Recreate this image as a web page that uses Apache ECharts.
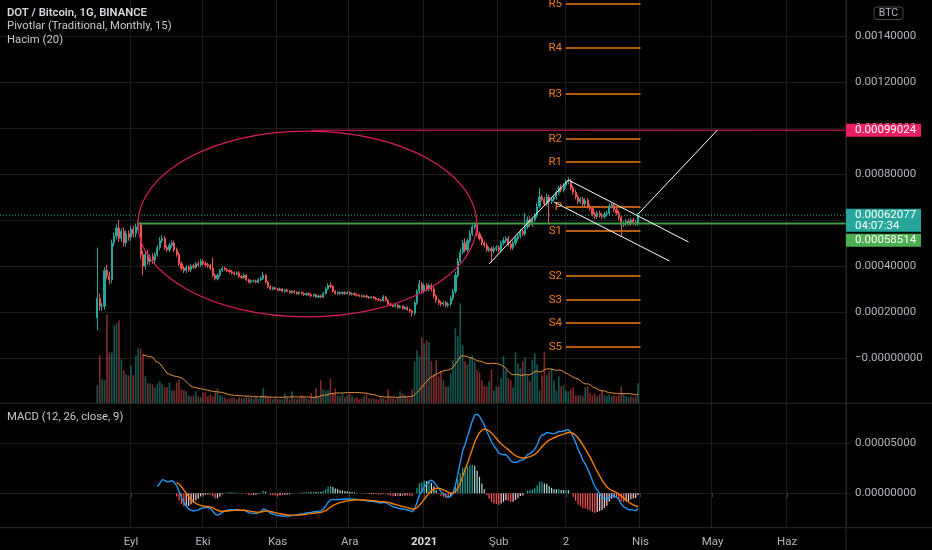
<!DOCTYPE html>
<html><head><meta charset="utf-8">
<script src="https://cdn.jsdelivr.net/npm/echarts@6/dist/echarts.min.js"></script>
<style>html,body{margin:0;padding:0;background:#000;overflow:hidden}#c{width:932px;height:550px}</style>
</head><body><div id="c"></div>
<script>
// ---------- DATA (prices in units of 1e-5 BTC) ----------
const startDate = '2020-08-18';
const leadSlots = 40;
const totalSlots = 352;
const firstOpen = 17.4;
const closes = [
26, 22.5, 22.5, 38, 36, 34, 50, 53, 56.5, 52,
55, 50, 54, 52.5, 56, 54, 57, 58, 45, 40,
45, 42, 44, 42.5, 45, 48, 51, 52, 48, 47,
49, 50, 47, 45, 41, 39, 38, 39.5, 38.5, 40,
39.5, 41, 40.5, 42, 41, 40.5, 40, 39, 36, 34.5,
36, 38, 39, 38.5, 38, 37.5, 37, 36.5, 37, 35.5,
35, 36, 34, 33, 33.5, 33.5, 33, 34, 34.5, 36,
33, 31, 30, 30.5, 30, 29.5, 30, 29, 29.5, 29,
28.5, 29, 28.5, 28, 28.5, 28, 27.5, 28, 27.5, 27,
27.5, 26.5, 27, 26.5, 28, 30, 31.5, 31, 29, 28,
28.5, 28, 28.5, 28, 28.5, 27.8, 28, 27.5, 27.2, 27,
26.8, 27, 26.5, 26.2, 26.5, 26, 25.5, 25.2, 25, 26.5,
25, 23.5, 23, 22.5, 23, 22, 22.5, 21.5, 22, 21,
20.5, 19.5, 24, 29, 32, 29, 31.5, 30, 31.5, 30,
27, 25, 24, 23.5, 24, 23, 23.5, 26, 29, 36,
42, 46, 50, 47, 51, 54, 57, 58, 54, 52,
50, 49, 47, 47.5, 46.5, 47.5, 48, 47, 50, 51,
52, 49.5, 48, 50, 52, 53, 55, 54, 57, 60,
58, 60, 62, 66, 70, 69, 67, 70, 68, 69,
70, 72, 74, 73, 75, 76.5, 77, 74, 72, 70,
68, 69, 67, 68.5, 66, 65, 62.5, 61.5, 63, 62,
61.5, 62.5, 63, 66, 66.5, 64.5, 63, 61, 58, 58.5,
59.5, 58.5, 60, 59, 58.5, 62.077
];
const wickUp = [
22, 2, 1.5, 1.5, 2.5, 1.5, 1.5, 1.5, 1.5, 3.5,
1.5, 2, 1.5, 1.5, 1.5, 1.5, 1.5, 1.5, 1, 1.5,
1.5, 2, 1, 1.5, 1, 1, 1.5, 1.5, 1, 1,
1, 1, 1, 1, 1, 1, 1, 0.8, 0.8, 1,
1, 0.8, 1, 1, 0.8, 1, 0.8, 0.8, 4.5, 0.8,
0.8, 0.8, 0.8, 0.8, 0.6, 0.6, 0.8, 0.6, 0.6, 0.8,
0.6, 0.8, 0.6, 0.6, 0.6, 0.6, 0.6, 0.6, 1, 1.5,
0.6, 0.6, 0.6, 0.6, 0.5, 0.5, 0.6, 0.5, 0.5, 0.5,
0.5, 0.5, 0.5, 0.5, 0.5, 0.5, 0.5, 0.5, 0.5, 0.5,
0.5, 0.5, 0.5, 0.5, 0.8, 0.8, 1, 1.5, 0.6, 0.5,
0.5, 0.5, 0.5, 0.5, 0.5, 0.5, 0.5, 0.5, 0.5, 0.5,
0.5, 0.5, 0.5, 0.5, 0.5, 0.5, 0.5, 0.5, 0.5, 0.8,
0.6, 0.5, 0.5, 0.5, 0.5, 0.5, 0.5, 0.5, 0.5, 0.5,
0.5, 0.5, 1, 1, 2, 1, 1, 1, 1, 1,
1, 0.8, 0.8, 0.8, 0.8, 0.8, 0.8, 1, 1, 1.5,
1.5, 1.5, 1.5, 2, 1, 1.5, 1, 1, 1.5, 1,
1, 1, 1, 1, 1, 1, 1, 1, 1, 1.5,
1, 1, 1, 1, 1, 1, 1, 1, 6, 1.5,
1.5, 1, 1, 1.5, 4, 1, 1, 1.5, 1, 1,
1, 1, 1, 1.5, 1, 1, 1.5, 1, 1, 1,
1, 1, 1, 1, 1, 1, 1, 1, 1, 1,
1, 1, 1, 1, 1, 1, 1, 1, 1, 1,
1, 1, 1, 1, 1, 1
];
const wickDn = [
5.4, 2, 2, 1.5, 1.5, 2, 1.5, 1.5, 1.5, 1.5,
1.5, 1.5, 1.5, 1.5, 1.5, 1.5, 1.5, 1.5, 2, 4,
1.5, 1.5, 1.5, 1.5, 1.5, 1, 1, 1, 1, 1,
1, 1, 1, 1, 1, 1, 1, 1, 1, 1,
0.8, 0.8, 0.8, 0.8, 0.8, 0.8, 0.8, 0.8, 0.8, 0.8,
0.8, 0.8, 0.6, 0.6, 0.6, 0.6, 0.6, 0.6, 0.6, 0.6,
0.6, 0.6, 0.6, 0.6, 0.6, 0.6, 0.6, 0.6, 0.6, 0.6,
0.6, 0.6, 0.6, 0.5, 0.5, 0.5, 0.5, 0.5, 0.5, 0.5,
0.5, 0.5, 0.5, 0.5, 0.5, 0.5, 0.5, 0.5, 0.5, 0.5,
0.5, 0.5, 0.5, 0.5, 0.5, 0.5, 0.5, 0.5, 0.5, 0.5,
0.5, 0.5, 0.5, 0.5, 0.5, 0.5, 0.5, 0.5, 0.5, 0.5,
0.5, 0.5, 0.5, 0.5, 0.5, 0.5, 0.5, 0.5, 0.5, 0.5,
0.5, 0.5, 0.5, 0.5, 0.5, 0.5, 0.5, 0.5, 0.5, 0.5,
0.8, 1.5, 1, 1, 1, 1, 1, 1, 1, 1,
1, 1, 1, 1, 1, 1, 1, 1, 1, 1,
1, 1, 1, 1, 1, 1, 1, 1, 1, 1,
1, 1, 1, 1, 5, 1, 1, 1, 1, 1,
1, 1, 1, 1, 1, 1, 1, 1, 1, 1,
1, 1, 1, 1, 1, 1, 1, 1, 10, 1,
1, 1, 1, 1, 1, 1, 1, 1, 1, 1,
1, 1, 1, 1, 1, 1, 1, 1, 1, 1,
1, 1, 1, 1, 1, 1, 1, 1, 5.4, 1,
1, 1, 1, 1, 1, 1
];
const volumes = [
18, 48, 24, 23, 89, 51, 51, 78, 80, 83,
44, 33, 29, 28, 38, 28, 48, 55, 55, 50,
27, 20, 20, 19, 16, 20, 22, 19, 16, 16,
21, 13, 13, 21, 24, 14, 13, 12, 8, 7,
8, 12, 7, 6, 11, 11, 7, 9, 7, 11,
15, 8, 7, 6, 4, 5, 5, 6, 4, 6,
5, 5, 7, 6, 6, 5, 7, 5, 8, 15,
8, 6, 5, 4, 5, 4, 4, 4, 10, 6,
4, 12, 5, 4, 5, 8, 6, 5, 4, 10,
6, 15, 7, 23, 14, 13, 13, 25, 10, 15,
8, 7, 10, 6, 8, 10, 7, 5, 6, 4,
5, 7, 10, 5, 5, 5, 4, 4, 6, 5,
4, 14, 6, 5, 4, 6, 12, 10, 8, 6,
5, 14, 42, 53, 47, 66, 60, 63, 61, 42,
29, 43, 27, 32, 23, 17, 17, 30, 43, 75,
67, 100, 58, 42, 39, 46, 48, 42, 33, 31,
23, 17, 17, 22, 34, 13, 17, 17, 25, 47,
33, 25, 23, 16, 51, 40, 35, 42, 46, 28,
22, 43, 50, 39, 13, 28, 51, 28, 32, 35,
23, 13, 27, 17, 18, 13, 12, 14, 16, 8,
8, 8, 7, 16, 17, 10, 8, 10, 7, 9,
13, 8, 7, 9, 7, 8, 7, 8, 17, 9,
7, 6, 7, 6, 7, 20
];
const monthLabels = {'09-01':'Eyl','10-01':'Eki','11-01':'Kas','12-01':'Ara','01-01':'2021','02-01':'Şub','03-01':'2','04-01':'Nis','05-01':'May','06-01':'Haz'};
const priceTicks = [0, 20, 40, 60, 80, 100, 120, 140];
const macdTicks = [0, 5];
const pivotNames = ['R5','R4','R3','R2','R1','P','S1','S2','S3','S4','S5'];
const pivotValues = [153.9, 134.8, 114.8, 95.2, 85.2, 65.7, 55.2, 35.7, 25.2, 15.2, 4.8];
const pivotFrom = '2021-03-01', pivotTo = '2021-04-01';
const resistancePrice = 99.024, resistanceFrom = '2020-11-15';
const supportPrice = 58.514, supportFrom = '2020-09-04';
const lastPrice = 62.077, countdown = '04:07:34';
const trendLines = [
  [['2021-01-28', 40.9], ['2021-03-02', 77.4]],
  [['2021-03-02', 77.4], ['2021-04-21', 50.4]],
  [['2021-02-24', 67.8], ['2021-04-13', 42.2]],
  [['2021-03-31', 62.6], ['2021-05-03', 99.1]]
];
const ellipseCenter = ['2020-11-13', 58.26];
const ellipseRadiusDays = 70.5, ellipseRadiusPrice = 40.4;
const titleLines = ['DOT / Bitcoin, 1G, BINANCE', 'Pivotlar (Traditional, Monthly, 15)', 'Hacim (20)'];

// ---------- BUILD ----------
const dayMs = 86400000;
const t0 = Date.parse(startDate + 'T00:00:00Z') - leadSlots * dayMs;
const cats = [];
for (let k = 0; k < totalSlots; k++) cats.push(new Date(t0 + k * dayMs).toISOString().slice(0, 10));
const slotOf = d => Math.round((Date.parse(d + 'T00:00:00Z') - t0) / dayMs);
const pad = () => new Array(totalSlots).fill(null);

const UP = '#26a69a', DN = '#ef5350';
const ohlc = new Array(totalSlots).fill('-');
let prevC = firstOpen;
closes.forEach((c, i) => {
  const o = prevC;
  ohlc[leadSlots + i] = [o, c, Math.min(o, c) - wickDn[i], Math.max(o, c) + wickUp[i]];
  prevC = c;
});
const volData = new Array(totalSlots).fill('-');
volumes.forEach((v, i) => {
  const d = ohlc[leadSlots + i];
  volData[leadSlots + i] = {value: v, itemStyle: {color: d[1] >= d[0] ? 'rgba(38,166,154,0.52)' : 'rgba(239,83,80,0.52)'}};
});
const volMA = pad();
for (let i = 19; i < volumes.length; i++) {
  let s = 0; for (let j = i - 19; j <= i; j++) s += volumes[j];
  volMA[leadSlots + i] = s / 20;
}
function ema(src, len) {
  const out = src.map(() => null);
  const k = 2 / (len + 1);
  const st = src.findIndex(v => v != null);
  if (st < 0 || st + len - 1 >= src.length) return out;
  let s = 0; for (let i = st; i < st + len; i++) s += src[i];
  let p = s / len; out[st + len - 1] = p;
  for (let i = st + len; i < src.length; i++) { p = src[i] * k + p * (1 - k); out[i] = p; }
  return out;
}
const e12 = ema(closes, 12), e26 = ema(closes, 26);
const macd = closes.map((_, i) => (e12[i] != null && e26[i] != null) ? e12[i] - e26[i] : null);
const sig = ema(macd, 9);
const macdLine = pad(), sigLine = pad(), histData = new Array(totalSlots).fill('-');
let prevH = null;
closes.forEach((_, i) => {
  macdLine[leadSlots + i] = macd[i];
  sigLine[leadSlots + i] = sig[i];
  if (macd[i] != null && sig[i] != null) {
    const h = macd[i] - sig[i];
    let col;
    if (h >= 0) col = (prevH != null && prevH < h) ? '#26a69a' : '#b2dfdb';
    else col = (prevH != null && prevH < h) ? '#ffcdd2' : '#ff5252';
    histData[leadSlots + i] = {value: h, itemStyle: {color: col}};
    prevH = h;
  }
});

const GRID = '#1d1d1d', AX = '#b2b5be', PIV = '#f07c17';
const FONT = 'Roboto, "Noto Sans", sans-serif';
const isMonth = (i, v) => !!monthLabels[String(v).slice(5)];
const fmt = v => (v / 1e5).toFixed(8);
const endSlot = totalSlots - 0.5;

const annot = [];
annot.push({type: 'line', xAxisIndex: 3, yAxisIndex: 0, data: [[-0.5, lastPrice], [endSlot, lastPrice]], symbol: 'none', lineStyle: {color: UP, width: 1, type: [1, 2]}, z: 3, silent: true});
annot.push({type: 'line', xAxisIndex: 3, yAxisIndex: 0, data: [[slotOf(supportFrom), supportPrice], [endSlot, supportPrice]], symbol: 'none', lineStyle: {color: '#3f9b46', width: 2}, z: 3, silent: true});
annot.push({type: 'line', xAxisIndex: 3, yAxisIndex: 0, data: [[slotOf(resistanceFrom), resistancePrice], [endSlot, resistancePrice]], symbol: 'none', lineStyle: {color: '#e91e63', width: 1}, z: 3, silent: true});
trendLines.forEach(seg => annot.push({type: 'line', xAxisIndex: 3, yAxisIndex: 0, data: seg.map(p => [slotOf(p[0]), p[1]]), symbol: 'none', lineStyle: {color: '#ffffff', width: 1}, z: 6, silent: true}));
pivotNames.forEach((n, k) => annot.push({
  type: 'line', xAxisIndex: 3, yAxisIndex: 0, symbol: 'none', z: 1, silent: true,
  lineStyle: {color: PIV, width: 1.5},
  data: [[slotOf(pivotFrom), pivotValues[k]], [slotOf(pivotTo), pivotValues[k]]]
}));

const option = {
  backgroundColor: '#000000',
  animation: false,
  textStyle: {fontFamily: FONT},
  grid: [
    {left: 0, right: 86, top: 0, bottom: 146.7},
    {left: 0, right: 86, top: 300, bottom: 146.7},
    {left: 0, right: 86, top: 403.3, bottom: 22.3}
  ],
  xAxis: [
    {type: 'category', gridIndex: 0, data: cats, boundaryGap: true, axisLine: {show: false}, axisTick: {show: false}, axisLabel: {show: false}, splitLine: {show: true, interval: isMonth, lineStyle: {color: GRID}}},
    {type: 'category', gridIndex: 1, data: cats, boundaryGap: true, axisLine: {show: false}, axisTick: {show: false}, axisLabel: {show: false}, splitLine: {show: false}},
    {type: 'category', gridIndex: 2, data: cats, boundaryGap: true, axisLine: {show: false},
      axisTick: {show: true, interval: isMonth, alignWithLabel: true, length: 4, lineStyle: {color: '#3a3a3a'}},
      axisLabel: {show: true, interval: isMonth, margin: 8, color: AX, fontSize: 11.5, fontFamily: FONT,
        formatter: v => { const l = monthLabels[v.slice(5)]; return l === '2021' ? '{b|2021}' : l; },
        rich: {b: {fontWeight: 'bold', color: '#d6d8de', fontSize: 11.5, fontFamily: FONT}}},
      splitLine: {show: true, interval: isMonth, lineStyle: {color: GRID}}},
    {type: 'value', gridIndex: 0, min: -0.5, max: endSlot, show: false}
  ],
  yAxis: [
    {type: 'value', gridIndex: 0, position: 'right', min: -19.7, max: 155.65, scale: true,
      axisLine: {show: false},
      axisTick: {show: true, length: 5, customValues: priceTicks, lineStyle: {color: GRID}},
      axisLabel: {customValues: priceTicks, margin: 9, color: AX, fontSize: 11.5, fontFamily: FONT, formatter: v => v === 0 ? '\u22120.00000000' : fmt(v)},
      splitLine: {show: true, lineStyle: {color: GRID}}},
    {type: 'value', gridIndex: 1, min: 0, max: 103.3, show: false},
    {type: 'value', gridIndex: 2, position: 'right', min: -3.44, max: 9.0, scale: true,
      axisLine: {show: false},
      axisTick: {show: true, length: 5, customValues: macdTicks, lineStyle: {color: GRID}},
      axisLabel: {customValues: macdTicks, margin: 9, color: AX, fontSize: 11.5, fontFamily: FONT, formatter: fmt},
      splitLine: {show: true, lineStyle: {color: GRID}}}
  ],
  series: [
    {type: 'bar', xAxisIndex: 1, yAxisIndex: 1, data: volData, barWidth: '68%', z: 1, silent: true},
    {type: 'line', xAxisIndex: 1, yAxisIndex: 1, data: volMA, symbol: 'none', lineStyle: {color: '#e8913f', width: 1}, z: 2, silent: true},
    {type: 'candlestick', xAxisIndex: 0, yAxisIndex: 0, data: ohlc, barWidth: '68%', z: 2, silent: true,
      itemStyle: {color: UP, color0: DN, borderColor: UP, borderColor0: DN, borderWidth: 1}},
    {type: 'bar', xAxisIndex: 2, yAxisIndex: 2, data: histData, barWidth: 1.2, z: 1, silent: true},
    {type: 'line', xAxisIndex: 2, yAxisIndex: 2, data: macdLine, symbol: 'none', lineStyle: {color: '#2196f3', width: 1.4}, z: 3, silent: true},
    {type: 'line', xAxisIndex: 2, yAxisIndex: 2, data: sigLine, symbol: 'none', lineStyle: {color: '#f57c00', width: 1.4}, z: 3, silent: true}
  ].concat(annot)
};

const chart = echarts.init(document.getElementById('c'), null, {renderer: 'canvas', width: 932, height: 550});
chart.setOption(option);

// ---------- overlays placed through the library's scales ----------
const toPx = (slot, price) => chart.convertToPixel({xAxisIndex: 3, yAxisIndex: 0}, [slot, price]);
const yOf = p => chart.convertToPixel({yAxisIndex: 0}, p);
const cS = slotOf(ellipseCenter[0]) + 0.4;
const c = toPx(cS, ellipseCenter[1]);
const rx = toPx(cS + ellipseRadiusDays, ellipseCenter[1])[0] - c[0];
const ry = c[1] - toPx(cS, ellipseCenter[1] + ellipseRadiusPrice)[1];
const W = 932, H = 550, axisX = 846, paneY = 403.3, botY = 527.7;
const yR = yOf(resistancePrice), yT = yOf(lastPrice);
const yG = yT + 18.5 + 6.5;
const txt = (x, y, s, fill, font, extra) => Object.assign({type: 'text', x: x, y: y, z: 120, silent: true, style: {text: s, fill: fill, font: font, textVerticalAlign: 'middle', verticalAlign: 'middle'}}, extra || {});
const lblFont = '11.5px ' + FONT;
const graphics = [
  {type: 'ellipse', shape: {cx: c[0], cy: c[1], rx: rx, ry: ry}, style: {fill: null, stroke: '#d81b60', lineWidth: 1.2}, z: 50, silent: true},
  {type: 'line', shape: {x1: 0, y1: paneY, x2: W, y2: paneY}, style: {stroke: '#2b2b2b', lineWidth: 1}, z: 40, silent: true},
  {type: 'line', shape: {x1: 0, y1: botY, x2: W, y2: botY}, style: {stroke: '#2b2b2b', lineWidth: 1}, z: 40, silent: true},
  {type: 'line', shape: {x1: axisX, y1: 0, x2: axisX, y2: H}, style: {stroke: '#2b2b2b', lineWidth: 1}, z: 40, silent: true},
  {type: 'rect', shape: {x: axisX, y: yR - 6.5, width: 75, height: 13}, style: {fill: '#e91e63'}, z: 110, silent: true},
  txt(855, yR, fmt(resistancePrice), '#ffffff', lblFont),
  {type: 'rect', shape: {x: axisX, y: yT - 6.5, width: 75, height: 23}, style: {fill: '#26a69a'}, z: 110, silent: true},
  txt(855, yT, fmt(lastPrice), '#ffffff', lblFont),
  txt(855, yT + 11, countdown, '#ffffff', lblFont),
  {type: 'rect', shape: {x: axisX, y: yG - 6.5, width: 75, height: 13}, style: {fill: '#4caf50'}, z: 110, silent: true},
  txt(855, yG, fmt(supportPrice), '#ffffff', lblFont),
  {type: 'rect', shape: {x: 874, y: 7, width: 29, height: 12.5, r: 3}, style: {fill: null, stroke: '#4a4a4a', lineWidth: 1}, z: 110, silent: true},
  {type: 'text', x: 888.5, y: 13.5, z: 120, silent: true, style: {text: 'BTC', fill: AX, font: '10.5px ' + FONT, align: 'center', textAlign: 'center', verticalAlign: 'middle', textVerticalAlign: 'middle'}},
  txt(7, 13.5, titleLines[0], '#d6d8de', '600 11.3px ' + FONT),
  txt(7, 26.5, titleLines[1], '#c8cad0', '11.3px ' + FONT),
  txt(7, 40, titleLines[2], '#c8cad0', '11.3px ' + FONT),
  txt(7, 417, 'MACD (12, 26, close, 9)', '#c8cad0', '11.3px ' + FONT)
];
const pivotX = toPx(slotOf(pivotFrom), 0)[0];
pivotNames.forEach((n, k) => {
  graphics.push({type: 'text', x: pivotX - 4, y: yOf(pivotValues[k]), z: 1, silent: true,
    style: {text: n, fill: PIV, font: '11.5px ' + FONT, align: 'right', textAlign: 'right', verticalAlign: 'middle', textVerticalAlign: 'middle'}});
});
chart.setOption({graphic: graphics});
</script>
</body></html>
